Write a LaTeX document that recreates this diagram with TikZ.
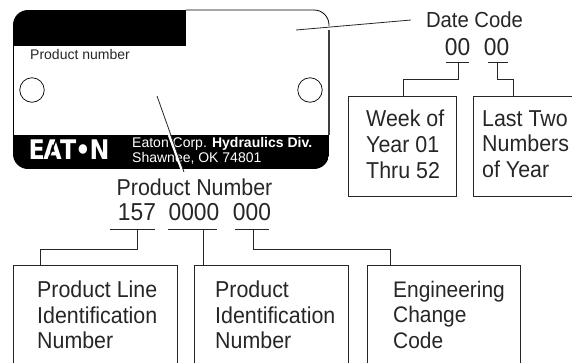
\documentclass[tikz,border=0pt]{standalone}
\usepackage{fontspec}
\setmainfont{Liberation Sans}
\newfontfamily\narrowf[FakeStretch=0.93]{Liberation Sans}
\newfontfamily\logof[FakeStretch=0.88]{DejaVu Sans}
\begin{document}
\begin{tikzpicture}[x=1pt,y=-1pt,
  conn/.style={draw=black!85,line width=0.8pt},
  tick/.style={draw=black!85,line width=0.7pt},
  lab/.style={font=\narrowf\fontsize{23}{25.7}\selectfont,text=black!85,inner sep=0pt},
  num/.style={lab,font=\narrowf\fontsize{24.5}{26}\selectfont},
  infobox/.style={draw=black!85,line width=0.9pt,inner sep=0pt,anchor=north west},
  boxtext/.style={lab,align=left,anchor=north west},
  plate/.style={font=\fontsize{14}{16}\selectfont,inner sep=0pt,anchor=west}]
\useasboundingbox (0,0) rectangle (572,362);
\clip (0,0) rectangle (572,362);
% plate
\begin{scope}
\clip[rounded corners=15pt] (13,10) rectangle (329,169);
\fill[black] (13,10) rectangle (186,46);
\fill[black] (13,135) rectangle (329,169);
\end{scope}
\draw[line width=0.8pt,rounded corners=15pt] (186,10) -- (329,10) -- (329,26);
\draw[black!75,line width=1.1pt] (329,30) -- (329,135);
\draw[line width=0.8pt] (13,46) -- (13,135);
\node[draw,line width=0.7pt,circle,minimum size=24.5pt,inner sep=0pt] (holeL) at (32,90) {};
\node[draw,line width=0.7pt,circle,minimum size=24.5pt,inner sep=0pt] (holeR) at (310,90) {};
\node[plate,text=black!85] (pn) at (30,54) {Product number};
\node[plate,text=white] (corp) at (132,144) {Eaton Corp. \textbf{Hydraulics Div.}};
\node[plate,text=white] (city) at (132,158) {Shawnee, OK 74801};
% logo
\node[inner sep=0pt,text=white,font=\logof\bfseries\fontsize{27}{27}\selectfont] (logo) at (69,149.5) {E\kern-1.5pt A\kern-1.5pt T\kern-1pt•\kern-1pt N};
\draw[black,line width=1.3pt] (48,160) -- (56,140);
% labels
\node[lab,font=\narrowf\fontsize{21.8}{25}\selectfont] (date) at (474.5,19.5) {Date Code};
\node[num] (d1) at (457.5,47) {00};
\node[num] (d2) at (496.5,47) {00};
\node[lab] (prod) at (194.5,187) {Product Number};
\node[num] (n1) at (137,212) {157};
\node[num] (n2) at (194,212) {0000};
\node[num] (n3) at (252,212) {000};
% ticks
\coordinate (t1a) at (446,62.5); \coordinate (t1b) at (469,62.5);
\coordinate (t2a) at (488,62.5); \coordinate (t2b) at (508,62.5);
\coordinate (t3a) at (110,229.5); \coordinate (t3b) at (155,229.5);
\coordinate (t4a) at (168,229.5); \coordinate (t4b) at (217,229.5);
\coordinate (t5a) at (235,229.5); \coordinate (t5b) at (269,229.5);
\foreach \p in {1,...,5} \draw[tick] (t\p a) -- (t\p b);
% boxes
\node[infobox,minimum width=108pt,minimum height=100pt] (week) at (348,96) {};
\node[infobox,minimum width=110pt,minimum height=100pt] (last) at (473,96) {};
\node[infobox,minimum width=164pt,minimum height=115pt] (line) at (13,265) {};
\node[infobox,minimum width=154pt,minimum height=115pt] (ident) at (194,265) {};
\node[infobox,minimum width=153pt,minimum height=115pt] (eng) at (367,265) {};
\node[boxtext] at (366,110) {Week of\\Year 01\\Thru 52};
\node[boxtext] at (482,110) {Last Two\\Numbers\\of Year};
\node[boxtext] at (37,280.5) {Product Line\\Identification\\Number};
\node[boxtext] at (215,280.5) {Product\\Identification\\Number};
\node[boxtext,font=\narrowf\fontsize{22.5}{25.7}\selectfont] at (393,280.5) {Engineering\\Change\\Code};
% connectors
\coordinate (c1) at (458,62.5); \coordinate (c2) at (497,62.5);
\coordinate (c3) at (137,229.5); \coordinate (c4) at (203,229.5); \coordinate (c5) at (253,229.5);
\draw[conn] (c1) -- (458,79) -- (403,79) -- (403,96);
\draw[conn] (c2) -- (497,79) -- (513,79) -- (513,96);
\draw[conn] (c3) -- (137,249) -- (40,249) -- (40,265);
\draw[conn] (c4) -- (203,265);
\draw[conn] (c5) -- (253,249) -- (390,249) -- (390,265);
% leader lines
\coordinate (dateA) at (296,30); \coordinate (dateB) at (411,20);
\draw[conn] (dateA) -- (dateB);
\coordinate (prodA) at (157,96); \coordinate (prodB) at (184,172);
\draw[white,line width=2.4pt] (169,135) -- (181.5,169);
\draw[conn] (prodA) -- (prodB);
\end{tikzpicture}
\end{document}
